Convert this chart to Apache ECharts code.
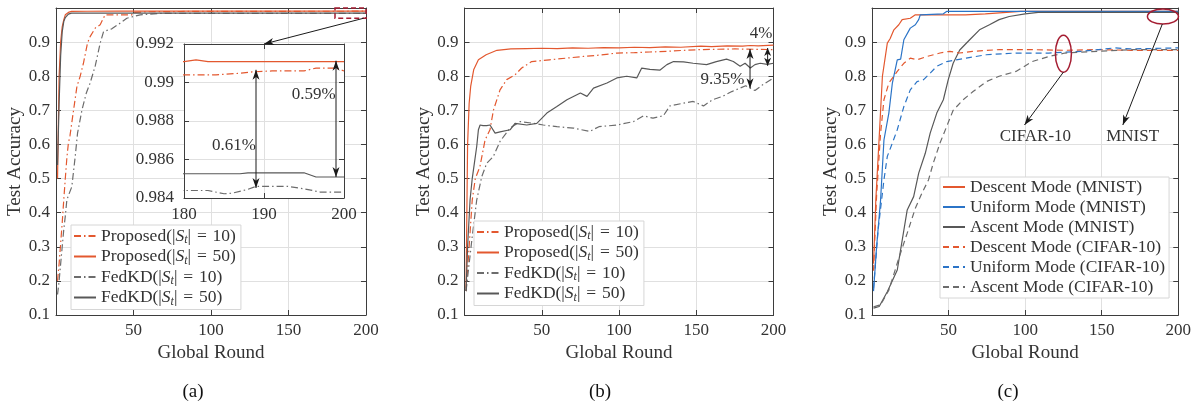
<!DOCTYPE html>
<html><head><meta charset="utf-8">
<script src="https://cdn.jsdelivr.net/npm/echarts@6/dist/echarts.min.js"></script>
<style>html,body{margin:0;padding:0;background:#fff}#c{width:1194px;height:408px}</style>
</head><body><div id="c"></div>
<script>
// ---------- data ----------
// (a) MNIST
const aP10_r = [1,2,3,4,5,6,7,8,9,11,13.5,15.6,17.7,20.3,22,25.3,28.5,31.7,40,49,50,60,80,100,120,140,160,180,184,187,188.5,191,195,196.5,199,200];
const aP10_v = [0.2,0.25,0.31,0.37,0.437,0.5,0.56,0.604,0.625,0.69,0.77,0.8,0.838,0.897,0.916,0.941,0.951,0.98,0.98,0.98,0.987,0.989,0.9898,0.99,0.9902,0.9903,0.9904,0.9904,0.9904,0.99048,0.99055,0.9906,0.9906,0.99075,0.99075,0.9906];
const aP50_r = [1,2,3,4,5,6,8,10,20,40,60,100,140,180,181.5,183,200];
const aP50_v = [0.5,0.8,0.9,0.945,0.965,0.98,0.987,0.99,0.9905,0.991,0.991,0.991,0.991,0.99108,0.99118,0.99108,0.99108];
const aF10_r = [1,2,3,4,5,6,7,8,10.2,12.4,13.9,16.7,19.5,22,25.3,28.5,30.7,36,41.5,45.7,54.3,67,80,100,120,140,160,180,183,185,186,188,189,193,195,197,200];
const aF10_v = [0.16,0.2,0.25,0.3,0.35,0.39,0.437,0.45,0.476,0.565,0.633,0.7,0.75,0.78,0.83,0.897,0.931,0.939,0.956,0.97,0.98,0.984,0.9845,0.9845,0.9844,0.9845,0.9844,0.98439,0.98439,0.98422,0.98425,0.98445,0.9846,0.9846,0.98448,0.98431,0.98431];
const aF50_r = [1,2,3,4,5,6,8,10,20,60,100,140,180,187,188,195,196.5,200];
const aF50_v = [0.54,0.72,0.86,0.93,0.96,0.972,0.982,0.985,0.9852,0.9853,0.9852,0.9853,0.98526,0.98526,0.98531,0.98531,0.98509,0.98509];
// (b) CIFAR-10
const bP10_r = [1,3,5,7,10,13.3,16.5,18.7,23,27.3,32.7,37,43.5,55,66,77,88,98.6,110,120,131,142,153,164,175,187,200];
const bP10_v = [0.17,0.3,0.437,0.5,0.535,0.613,0.643,0.7,0.76,0.79,0.804,0.824,0.843,0.848,0.853,0.858,0.862,0.868,0.869,0.871,0.873,0.876,0.878,0.879,0.88,0.879,0.878];
const bP50_r = [1,2,3,4,6,9,14,21,30,40,50,60,70,80,90,100,110,120,130,140,153,160,170,180,185,190,200];
const bP50_v = [0.18,0.6,0.72,0.77,0.82,0.848,0.863,0.876,0.88,0.881,0.882,0.881,0.883,0.882,0.884,0.883,0.885,0.884,0.886,0.885,0.888,0.887,0.889,0.888,0.89,0.889,0.891];
const bF10_r = [1,3,5,7.9,11.2,14.4,18.7,23,29.5,36,44.7,51,59.8,70.6,81,87,98.6,109.4,115.8,122,128.7,133,141.8,148,154.7,160.6,167,173,182,188,193,200];
const bF10_v = [0.17,0.25,0.33,0.437,0.506,0.545,0.565,0.609,0.648,0.667,0.662,0.657,0.652,0.648,0.638,0.652,0.657,0.667,0.684,0.677,0.684,0.713,0.721,0.726,0.713,0.731,0.741,0.755,0.772,0.758,0.775,0.795];
const bF50_r = [1,2,3.6,5,7.9,9,10.1,12,14.4,16.5,19.8,23,29.5,32.7,40.3,46.8,53.3,59.8,66.3,75,79.3,83.5,92.2,98.6,105,111.5,114.7,120,126.6,131,135.3,141.8,148,156.7,163,169.6,174,178.4,181.6,185,188,191.4,196,200];
const bF50_v = [0.17,0.3,0.437,0.5,0.594,0.643,0.657,0.655,0.655,0.657,0.633,0.637,0.643,0.662,0.657,0.662,0.692,0.711,0.731,0.751,0.741,0.765,0.78,0.795,0.8,0.795,0.824,0.82,0.818,0.834,0.843,0.842,0.838,0.834,0.843,0.85,0.843,0.829,0.838,0.824,0.834,0.838,0.835,0.838];
// (c) modes
const cDM_r = [1,2.5,4.6,6.8,10,11.8,14.3,17.5,19.7,25,28.3,61,62,74,75,97,200];
const cDM_v = [0.25,0.437,0.613,0.8,0.897,0.91,0.936,0.951,0.966,0.97,0.98,0.98,0.983,0.983,0.986,0.99,0.99];
const cUM_r = [1,3,5.6,7.8,11,13.3,16.5,18.7,20.8,25,28.3,30.5,31.5,46.6,48.7,200];
const cUM_v = [0.17,0.3,0.437,0.613,0.692,0.78,0.848,0.85,0.907,0.941,0.951,0.966,0.98,0.983,0.99,0.99];
const cAM_r = [1,4.7,10,16.5,23,27.2,30.5,34.8,38,42.3,46.6,49.8,53,57.3,63.8,70.2,76.7,83,89.6,100,108.5,200];
const cAM_v = [0.12,0.125,0.168,0.232,0.408,0.447,0.516,0.574,0.633,0.692,0.731,0.79,0.838,0.877,0.907,0.936,0.951,0.966,0.975,0.983,0.987,0.987];
const cDC_r = [1,3,5.6,7.8,11,16.5,20.8,25,29.4,36,44.4,50.8,57,65.6,83,104,126,147,169,200];
const cDC_v = [0.23,0.45,0.633,0.731,0.78,0.814,0.838,0.853,0.848,0.858,0.868,0.873,0.868,0.873,0.878,0.878,0.876,0.878,0.876,0.876];
const cUC_r = [1,4,7.8,10,13.3,16.5,20.8,25,29.4,33.7,38,42.3,48.7,55,61.5,74.6,94,115.5,137,158.7,169,200];
const cUC_v = [0.178,0.35,0.496,0.565,0.604,0.643,0.711,0.76,0.784,0.79,0.809,0.829,0.843,0.848,0.853,0.863,0.868,0.868,0.873,0.883,0.88,0.883];
const cAC_r = [1,5.7,11,17.5,23,28.3,32.6,36.9,40,44.4,48.7,53,59.5,66,74.6,83,94,104.6,115.5,126,147.6,169,200];
const cAC_v = [0.124,0.13,0.173,0.266,0.34,0.413,0.457,0.496,0.545,0.604,0.652,0.7,0.731,0.755,0.784,0.8,0.814,0.843,0.858,0.868,0.873,0.878,0.878];

// ---------- styling ----------
const F = '"Liberation Serif","DejaVu Serif","Times New Roman",serif';
const TXT = '#333';
const AX = '#3d3d3d';
const GC = '#e0e0e0';
const OR = '#e3582f', BL = '#2b74c7', GS = '#585858', GD = '#6c6c6c', DR = '#a51d32';
const DASHDOT = [7,3,1.5,3];
const DASH = [6,4];

const GRIDS = [
  {left:56, top:8, width:310, height:307},
  {left:464.5, top:8, width:309, height:307},
  {left:872, top:8, width:309, height:307},
  {left:184, top:44, width:160, height:154, z:5, show:true, backgroundColor:'#fff', borderWidth:0}
];

const pts = (r, v) => r.map((x, i) => [x, v[i]]);
const EQ = '|\u2004=\u2004';
const LEG = {
  a0:'{t|Proposed(|}{i|S}{s|t}{t|' + EQ + '10)}', a1:'{t|Proposed(|}{i|S}{s|t}{t|' + EQ + '50)}',
  a2:'{t|FedKD(|}{i|S}{s|t}{t|' + EQ + '10)}', a3:'{t|FedKD(|}{i|S}{s|t}{t|' + EQ + '50)}',
  c0:'{t|Descent Mode (MNIST)}', c1:'{t|Uniform Mode (MNIST)}', c2:'{t|Ascent Mode (MNIST)}',
  c3:'{t|Descent Mode (CIFAR-10)}', c4:'{t|Uniform Mode (CIFAR-10)}', c5:'{t|Ascent Mode (CIFAR-10)}'
};
LEG.b0 = LEG.a0; LEG.b1 = LEG.a1; LEG.b2 = LEG.a2; LEG.b3 = LEG.a3;

const SER = [
  ['a0',0,aP10_r,aP10_v,OR,DASHDOT],['a1',0,aP50_r,aP50_v,OR,'solid'],
  ['a2',0,aF10_r,aF10_v,GD,DASHDOT],['a3',0,aF50_r,aF50_v,GS,'solid'],
  ['b0',1,bP10_r,bP10_v,OR,DASHDOT],['b1',1,bP50_r,bP50_v,OR,'solid'],
  ['b2',1,bF10_r,bF10_v,GD,DASHDOT],['b3',1,bF50_r,bF50_v,GS,'solid'],
  ['c0',2,cDM_r,cDM_v,OR,'solid'],['c1',2,cUM_r,cUM_v,BL,'solid'],['c2',2,cAM_r,cAM_v,GS,'solid'],
  ['c3',2,cDC_r,cDC_v,OR,DASH],['c4',2,cUC_r,cUC_v,BL,DASH],['c5',2,cAC_r,cAC_v,GD,DASH]
];

const tickStyle = {inside:true, length:5, lineStyle:{color:AX}};
const lineStyleAx = {show:true, onZero:false, lineStyle:{color:AX, width:1}};
const lab = {fontFamily:F, fontSize:17, color:TXT};

const xAxis = [], yAxis = [];
for (let g = 0; g < 3; g++) {
  xAxis.push({gridIndex:g, type:'value', min:0, max:200, interval:50, position:'bottom',
    axisLine:lineStyleAx, axisTick:tickStyle,
    axisLabel:Object.assign({margin:7, showMinLabel:false}, lab),
    splitLine:{show:true, showMinLine:false, showMaxLine:false, lineStyle:{color:GC}},
    name:'Global Round', nameLocation:'middle', nameGap:27,
    nameTextStyle:{fontFamily:F, fontSize:19, color:TXT}});
  xAxis.push({gridIndex:g, type:'value', min:0, max:200, interval:50, position:'top', z:1,
    axisLine:lineStyleAx, axisTick:tickStyle, axisLabel:{show:false}, splitLine:{show:false}});
  yAxis.push({gridIndex:g, type:'value', min:0.1, max:1, interval:0.1, position:'left',
    axisLine:lineStyleAx, axisTick:tickStyle,
    axisLabel:Object.assign({margin:6, showMaxLabel:false, formatter:v => v.toFixed(1)}, lab),
    splitLine:{show:true, showMinLine:false, showMaxLine:false, lineStyle:{color:GC}},
    name:'Test Accuracy', nameLocation:'middle', nameGap:29,
    nameTextStyle:{fontFamily:F, fontSize:19, color:TXT}});
  yAxis.push({gridIndex:g, type:'value', min:0.1, max:1, interval:0.1, position:'right', z:1,
    axisLine:lineStyleAx, axisTick:tickStyle, axisLabel:{show:false}, splitLine:{show:false}});
}
// inset axes (index 6,7)
xAxis.push({gridIndex:3, type:'value', min:180, max:200, interval:10, position:'bottom', z:6,
  axisLine:lineStyleAx, axisTick:tickStyle, axisLabel:Object.assign({margin:8}, lab),
  splitLine:{show:true, showMinLine:false, showMaxLine:false, lineStyle:{color:GC}}});
xAxis.push({gridIndex:3, type:'value', min:180, max:200, interval:10, position:'top', z:6,
  axisLine:lineStyleAx, axisTick:tickStyle, axisLabel:{show:false}, splitLine:{show:false}});
yAxis.push({gridIndex:3, type:'value', min:0.984, max:0.992, interval:0.002, position:'left', z:6,
  axisLine:lineStyleAx, axisTick:tickStyle, axisLabel:Object.assign({margin:10}, lab),
  splitLine:{show:true, showMinLine:false, showMaxLine:false, lineStyle:{color:GC}}});
yAxis.push({gridIndex:3, type:'value', min:0.984, max:0.992, interval:0.002, position:'right', z:6,
  axisLine:lineStyleAx, axisTick:tickStyle, axisLabel:{show:false}, splitLine:{show:false}});

const series = [];
SER.forEach(([name, g, r, v, col, dash]) => {
  series.push({name, type:'line', xAxisIndex:2*g, yAxisIndex:2*g, data:pts(r, v),
    symbol:'none', showSymbol:false, silent:true, clip:true, z:2,
    lineStyle:{color:col, width:1.2, type:dash}, itemStyle:{color:col}});
});
SER.slice(0, 4).forEach(([name, g, r, v, col, dash]) => {
  series.push({name:'inset_' + name, type:'line', xAxisIndex:6, yAxisIndex:6, data:pts(r, v),
    symbol:'none', showSymbol:false, silent:true, clip:true, z:7,
    lineStyle:{color:col, width:1.2, type:dash}, itemStyle:{color:col}});
});

const FS = 17.5;
const rich = {
  t:{fontFamily:F, fontSize:FS, lineHeight:20, color:TXT},
  i:{fontFamily:F, fontSize:FS, fontStyle:'italic', lineHeight:20, color:TXT},
  s:{fontFamily:F, fontSize:12, fontStyle:'italic', lineHeight:9, verticalAlign:'bottom', color:TXT}
};
function legend(names, left, top, pad, gap) {
  return {orient:'vertical', left, top, data:names, selectedMode:false,
    formatter:n => LEG[n], backgroundColor:'#fff', borderColor:'#d6d6d6', borderWidth:1,
    padding:pad, itemWidth:22, itemHeight:2, itemGap:gap, z:8,
    itemStyle:{opacity:0},
    textStyle:{fontFamily:F, fontSize:FS, color:TXT, rich}};
}

const option = {
  animation:false,
  backgroundColor:'#fff',
  grid:GRIDS,
  xAxis, yAxis, series,
  legend:[
    legend(['a0','a1','a2','a3'], 71, 225, [2,5,2,2], 1.5),
    legend(['b0','b1','b2','b3'], 474, 221, [2,5,2,2], 1.5),
    legend(['c0','c1','c2','c3','c4','c5'], 940, 177, [1,4,2,2], 2)
  ]
};

const chart = echarts.init(document.getElementById('c'), null, {renderer:'canvas', width:1194, height:408});
chart.setOption(option);

// ---------- annotations ----------
const px = (xi, yi, p) => chart.convertToPixel({xAxisIndex:xi, yAxisIndex:yi}, p);
function head(tip, from, len, half) {
  const dx = tip[0]-from[0], dy = tip[1]-from[1], L = Math.hypot(dx, dy);
  const ux = dx/L, uy = dy/L, nx = -uy, ny = ux;
  const bx = tip[0]-ux*len, by = tip[1]-uy*len;
  const nt = [tip[0]-ux*len*0.72, tip[1]-uy*len*0.72];
  return {type:'polygon', silent:true, z:30,
    shape:{points:[tip, [bx+nx*half, by+ny*half], nt, [bx-nx*half, by-ny*half]]},
    style:{fill:'#1a1a1a'}};
}
function arrow(p0, p1, h0, h1, len, half) {
  const out = [{type:'line', silent:true, z:29, shape:{x1:p0[0], y1:p0[1], x2:p1[0], y2:p1[1]},
    style:{stroke:'#1a1a1a', lineWidth:1}}];
  if (h1) out.push(head(p1, p0, len, half));
  if (h0) out.push(head(p0, p1, len, half));
  return out;
}
function text(str, p, size, fill) {
  return {type:'text', silent:true, z:31, style:{text:str, x:p[0], y:p[1],
    font:size + 'px ' + F, fill:fill || TXT, align:'center', verticalAlign:'middle'}};
}
const G = [];
// (a) zoom box and link arrow
const r0 = px(0, 0, [180, 1.0]), r1 = px(0, 0, [200, 0.97]);
G.push({type:'rect', silent:true, z:28, shape:{x:r0[0], y:r0[1], width:r1[0]-r0[0], height:r1[1]-r0[1]},
  style:{fill:'none', stroke:DR, lineWidth:1.5, lineDash:[5,3]}});
G.push(...arrow(px(0, 0, [198.5, 0.97]), px(6, 6, [190, 0.992]), false, true, 10, 3.5));
// (a) inset gaps
G.push(...arrow(px(6, 6, [189, 0.99066]), px(6, 6, [189, 0.98452]), true, true, 10, 3.5));
G.push(...arrow(px(6, 6, [199, 0.99113]), px(6, 6, [199, 0.98509]), true, true, 10, 3.5));
G.push(text('0.61%', px(6, 6, [186.25, 0.98675]), 17));
G.push(text('0.59%', px(6, 6, [196.2, 0.9894]), 17));
// (b) gaps
G.push(...arrow(px(2, 2, [184.8, 0.8797]), px(2, 2, [184.8, 0.765]), true, true, 10, 3.5));
G.push(...arrow(px(2, 2, [196.2, 0.8826]), px(2, 2, [196.2, 0.8306]), true, true, 8, 3.5));
G.push(text('4%', px(2, 2, [191.9, 0.926]), 17));
G.push(text('9.35%', px(2, 2, [167, 0.789]), 17));
// (c) ellipses and labels
const e1 = px(4, 4, [125, 0.866]), e2 = px(4, 4, [190, 0.975]);
G.push({type:'ellipse', silent:true, z:28, shape:{cx:e1[0], cy:e1[1], rx:8, ry:18.5}, style:{fill:'none', stroke:DR, lineWidth:1.5}});
G.push({type:'ellipse', silent:true, z:28, shape:{cx:e2[0], cy:e2[1], rx:15.5, ry:7.5}, style:{fill:'none', stroke:DR, lineWidth:1.5}});
G.push(...arrow(px(4, 4, [125, 0.812]), px(4, 4, [99.6, 0.657]), false, true, 10, 3.5));
G.push(...arrow(px(4, 4, [189.6, 0.953]), px(4, 4, [163.8, 0.657]), false, true, 10, 3.5));
G.push(text('CIFAR-10', px(4, 4, [106.7, 0.622]), 17));
G.push(text('MNIST', px(4, 4, [170.2, 0.622]), 17));
// captions
G.push(text('(a)', [193, 392], 19, '#111'));
G.push(text('(b)', [600, 392], 19, '#111'));
G.push(text('(c)', [1008, 392], 19, '#111'));
chart.setOption({graphic:G});
</script></body></html>
